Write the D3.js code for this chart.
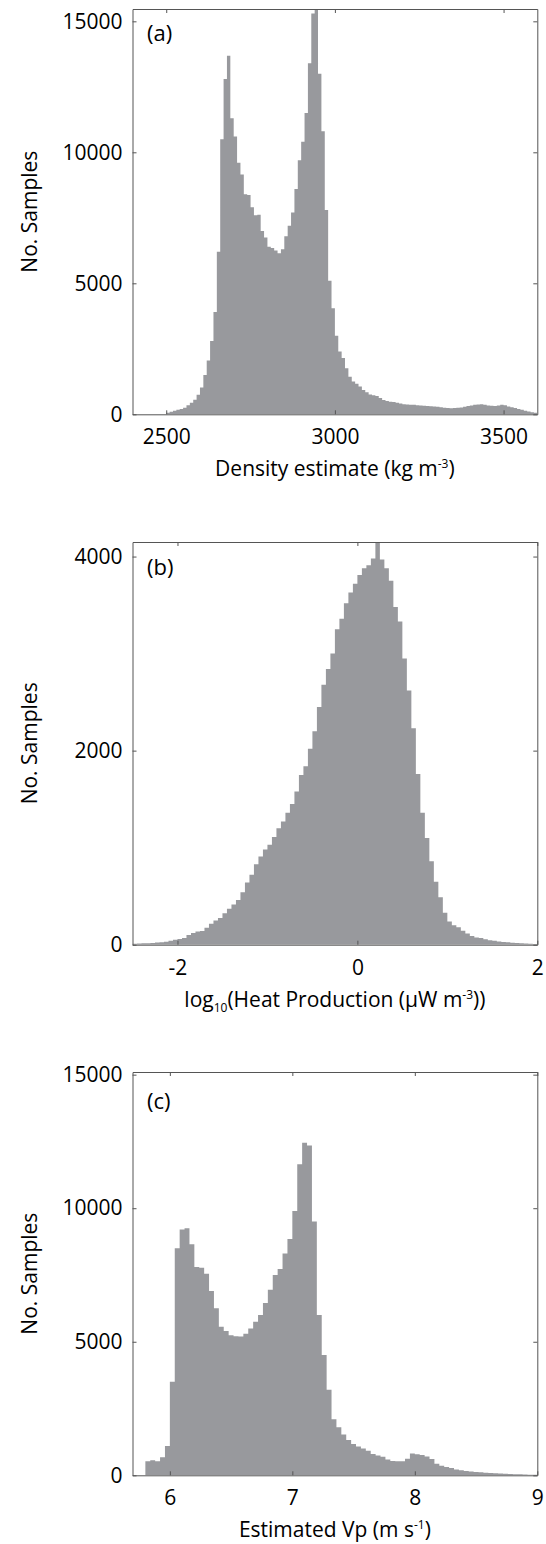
<!DOCTYPE html>
<html>
<head>
<meta charset="utf-8">
<script src="https://cdn.jsdelivr.net/npm/d3@7"></script>
<style>
  body { margin: 0; background: #fff; }
  text { font-family: "Open Sans", "Noto Sans", sans-serif; fill: #000; }
</style>
</head>
<body>
<div id="wrapper"></div>
<script>
// (a) density histogram, 10 kg m-3 bins starting at 2400
const densityStart = 2400
const densityStep = 10
const densityCounts = [
  0, 0, 0, 0, 0, 0, 0, 0, 0, 0,
  60, 100, 140, 170, 200, 250, 350, 440, 560, 750,
  1020, 1500, 2050, 2800, 3900, 6200, 10500, 12800, 13690, 11300,
  10600, 9600, 9150, 8400, 8370, 7900, 7600, 7620, 7000, 6750,
  6400, 6350, 6250, 6150, 6300, 6800, 7200, 7700, 8600, 9700,
  10400, 11500, 13400, 15300, 15500, 13000, 10800, 7800, 5100, 4050,
  3000, 2400, 2150, 1760, 1430, 1250, 1170, 1060, 930, 840,
  760, 730, 700, 620, 550, 510, 480, 470, 440, 410,
  380, 370, 360, 360, 350, 340, 330, 320, 310, 300,
  290, 270, 250, 240, 230, 240, 250, 260, 290, 320,
  340, 360, 370, 380, 360, 340, 330, 320, 340, 360,
  350, 300, 270, 240, 200, 170, 140, 110, 80, 60
]
const densityTicksX = [2500, 3000, 3500]
const densityTicksY = [0, 5000, 10000, 15000]

// (b) log10 heat production, 0.05 bins starting at -2.5
const heatStart = -2.5
const heatStep = 0.05
const heatCounts = [
  10, 12, 14, 16, 18, 22, 26, 30, 40, 50,
  60, 70, 100, 120, 135, 140, 175, 215, 250, 275,
  325, 370, 415, 460, 540, 640, 720, 830, 910, 980,
  1030, 1110, 1200, 1270, 1360, 1450, 1580, 1750, 1840, 2020,
  2200, 2450, 2680, 2840, 3000, 3250, 3360, 3520, 3630, 3720,
  3810, 3880, 3910, 3980, 4160, 3970, 3880, 3750, 3480, 3330,
  2950, 2620, 2230, 1760, 1360, 1100, 860, 650, 490, 330,
  240, 200, 180, 145, 115, 90, 75, 68, 55, 46,
  40, 32, 28, 24, 20, 17, 15, 12, 10, 8
]
const heatTicksX = [-2, 0, 2]
const heatTicksY = [0, 2000, 4000]

// (c) estimated Vp, 0.04 bins starting at 5.8
const vpStart = 5.8
const vpStep = 0.04
const vpCounts = [
  530, 560, 530, 680, 1100, 3500, 8500, 9200, 9250, 8650,
  7800, 7770, 7550, 6900, 6250, 5560, 5400, 5240, 5210, 5200,
  5300, 5500, 5750, 6000, 6450, 6950, 7500, 7720, 8300, 8850,
  9900, 11650, 12450, 12350, 9500, 6000, 4500, 3200, 2100, 1800,
  1530, 1320, 1170, 1080, 1000, 920, 800, 740, 690, 590,
  540, 525, 530, 620, 820, 790, 760, 700, 610, 430,
  360, 310, 270, 220, 190, 160, 140, 125, 110, 95,
  85, 75, 65, 58, 50, 42, 36, 28, 22, 18
]
const vpTicksX = [6, 7, 8, 9]
const vpTicksY = [0, 5000, 10000, 15000]

const barColor = "#98999d"
const frameColor = "#555"

const width = 546
const height = 1544
const plotLeft = 132.5
const plotRight = 537.3

const panels = [
  {
    tag: "(a)", start: densityStart, step: densityStep, counts: densityCounts,
    xDomain: [2400, 3600], yMax: 15470, ticksX: densityTicksX, ticksY: densityTicksY,
    top: 9, bottom: 414.3, tagDy: 32,
    label: [["Density estimate (kg m", 0], ["-3", 1], [")", 0]]
  },
  {
    tag: "(b)", start: heatStart, step: heatStep, counts: heatCounts,
    xDomain: [-2.5, 2], yMax: 4150, ticksX: heatTicksX, ticksY: heatTicksY,
    top: 542, bottom: 944.7, tagDy: 33,
    label: [["log", 0], ["10", -1], ["(Heat Production (\u03bcW m", 0], ["-3", 1], ["))", 0]]
  },
  {
    tag: "(c)", start: vpStart, step: vpStep, counts: vpCounts,
    xDomain: [5.695, 9], yMax: 15100, ticksX: vpTicksX, ticksY: vpTicksY,
    top: 1072, bottom: 1475.3, tagDy: 37,
    label: [["Estimated Vp (m s", 0], ["-1", 1], [")", 0]]
  }
]

const svg = d3.select("#wrapper")
  .append("svg")
    .attr("width", width)
    .attr("height", height)

const fmt = d => String(d)

panels.forEach((p, idx) => {
  const innerW = plotRight - plotLeft
  const innerH = p.bottom - p.top

  const xScale = d3.scaleLinear().domain(p.xDomain).range([0, innerW])
  const yScale = d3.scaleLinear().domain([0, p.yMax]).range([innerH, 0])

  const g = svg.append("g")
      .attr("transform", `translate(${plotLeft},${p.top})`)

  g.append("clipPath")
      .attr("id", "clip" + idx)
    .append("rect")
      .attr("width", innerW)
      .attr("height", innerH)

  // bins -> step outline
  const bins = p.counts.map((c, i) => ({ x0: p.start + i * p.step, count: c }))
  bins.push({ x0: p.start + p.counts.length * p.step, count: p.counts[p.counts.length - 1] })

  const area = d3.area()
    .x(d => xScale(d.x0))
    .y0(yScale(0))
    .y1(d => yScale(d.count))
    .curve(d3.curveStepAfter)

  g.append("path")
      .datum(bins)
      .attr("clip-path", `url(#clip${idx})`)
      .attr("fill", barColor)
      .attr("d", area)

  // frame with inward ticks on all four sides
  const styleAxis = sel => {
    sel.selectAll("path.domain").attr("stroke", frameColor)
    sel.selectAll(".tick line").attr("stroke", frameColor)
    sel.selectAll("text")
      .style("font-family", '"Open Sans", sans-serif')
      .style("font-size", "21px")
      .attr("fill", "#000")
  }

  g.append("g")
      .attr("transform", `translate(0,${innerH})`)
      .call(d3.axisBottom(xScale).tickValues(p.ticksX).tickFormat(fmt).tickSize(-4).tickSizeOuter(0).tickPadding(15))
      .call(styleAxis)

  g.append("g")
      .call(d3.axisTop(xScale).tickValues(p.ticksX).tickFormat("").tickSize(-4).tickSizeOuter(0))
      .call(styleAxis)

  g.append("g")
      .call(d3.axisLeft(yScale).tickValues(p.ticksY).tickFormat(fmt).tickSize(-4).tickSizeOuter(0).tickPadding(10))
      .call(styleAxis)

  g.append("g")
      .attr("transform", `translate(${innerW},0)`)
      .call(d3.axisRight(yScale).tickValues(p.ticksY).tickFormat("").tickSize(-4).tickSizeOuter(0))
      .call(styleAxis)

  // panel tag
  g.append("text")
      .attr("x", 14.5)
      .attr("y", p.tagDy)
      .style("font-size", "22px")
      .text(p.tag)

  // x label with super/subscripts
  const xl = g.append("text")
      .attr("x", innerW / 2)
      .attr("y", innerH + 62)
      .attr("text-anchor", "middle")
      .style("font-size", "21px")
  let shift = 0
  p.label.forEach(([t, kind]) => {
    const target = kind === 1 ? -8 : kind === -1 ? 5 : 0
    xl.append("tspan")
        .attr("dy", target - shift)
        .style("font-size", kind === 0 ? "21px" : "12px")
        .text(t)
    shift = target
  })

  // y label
  g.append("text")
      .attr("transform", `translate(${37 - plotLeft},${innerH / 2}) rotate(-90)`)
      .attr("text-anchor", "middle")
      .style("font-size", "21px")
      .text("No. Samples")
})
</script>
</body>
</html>
